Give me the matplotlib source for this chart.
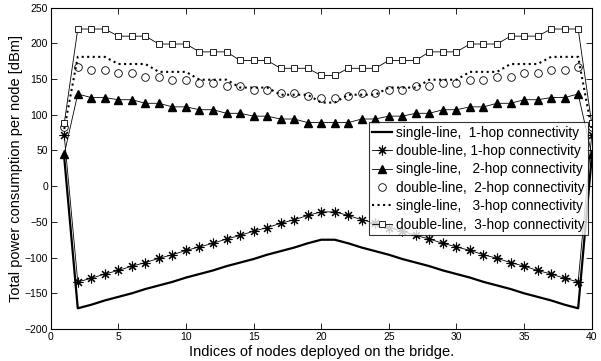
import matplotlib.pyplot as plt
import numpy as np

plt.rcParams['font.family'] = ['Liberation Sans', 'DejaVu Sans']

# Node indices 1..40
nodes = np.arange(1, 41)

# single-line, 1-hop
single_1hop = [40, -171, -166, -160, -155, -150, -144, -139, -134, -128,
               -123, -118, -112, -107, -102, -96, -91, -86, -80, -75,
               -75, -80, -86, -91, -96, -102, -107, -112, -118, -123,
               -128, -134, -139, -144, -150, -155, -160, -166, -171, 40]

# double-line, 1-hop
double_1hop = [71, -134, -129, -123, -118, -112, -107, -101, -96, -90,
               -85, -80, -74, -69, -63, -58, -52, -47, -41, -36,
               -36, -41, -47, -52, -58, -63, -69, -74, -80, -85,
               -90, -96, -101, -107, -112, -118, -123, -129, -134, 71]

# single-line, 2-hop
single_2hop = [45, 129, 124, 124, 121, 121, 116, 116, 111, 111,
               107, 107, 102, 102, 98, 98, 94, 94, 89, 89,
               89, 89, 94, 94, 98, 98, 102, 102, 107, 107,
               111, 111, 116, 116, 121, 121, 124, 124, 129, 45]

# double-line, 2-hop
double_2hop = [83, 167, 162, 162, 158, 158, 153, 153, 149, 149,
               145, 145, 140, 140, 135, 135, 131, 131, 126, 124,
               124, 126, 131, 131, 135, 135, 140, 140, 145, 145,
               149, 149, 153, 153, 158, 158, 162, 162, 167, 83]

# single-line, 3-hop
single_3hop = [80, 181, 181, 181, 171, 171, 171, 160, 160, 160,
               149, 149, 149, 138, 138, 138, 128, 128, 128, 117,
               117, 128, 128, 128, 138, 138, 138, 149, 149, 149,
               160, 160, 160, 171, 171, 171, 181, 181, 181, 80]

# double-line, 3-hop
double_3hop = [88, 220, 220, 220, 210, 210, 210, 199, 199, 199,
               188, 188, 188, 176, 176, 176, 165, 165, 165, 155,
               155, 165, 165, 165, 176, 176, 176, 188, 188, 188,
               199, 199, 199, 210, 210, 210, 220, 220, 220, 88]

fig = plt.figure(figsize=(6.01, 3.61), dpi=100)
ax = fig.add_axes([0.0844, 0.0886, 0.9001, 0.8904])

ax.plot(nodes, single_1hop, color='black', lw=1.6,
        label='single-line,  1-hop connectivity')
ax.plot(nodes, double_1hop, color='black', lw=0.6, marker=(8, 2, 0), ms=7,
        mew=0.8, label='double-line, 1-hop connectivity')
ax.plot(nodes, single_2hop, color='black', lw=0.6, marker='^', ms=5.5,
        mfc='black', label='single-line,   2-hop connectivity')
ax.plot(nodes, double_2hop, color='black', ls='none', marker='o', ms=5.5,
        mfc='white', mew=0.6, label='double-line,  2-hop connectivity')
ax.plot(nodes, single_3hop, color='black', lw=1.5, ls=':',
        label='single-line,   3-hop connectivity')
ax.plot(nodes, double_3hop, color='black', lw=0.6, marker='s', ms=5,
        mfc='white', mew=0.6, label='double-line,  3-hop connectivity')

ax.set_xlim(0, 40)
ax.set_ylim(-200, 250)
ax.set_xticks(np.arange(0, 41, 5))
ax.set_yticks(np.arange(-200, 251, 50))
ax.tick_params(direction='in', top=True, right=True, labelsize=7.5,
               length=4, width=0.6, pad=2)
for s in ax.spines.values():
    s.set_linewidth(0.8)

ax.set_xlabel('Indices of nodes deployed on the bridge.', fontsize=10.5, labelpad=2)
ax.set_ylabel('Total power consumption per node [dBm]', fontsize=10.5, labelpad=1)

leg = ax.legend(loc='upper right', bbox_to_anchor=(0.994, 0.643), fontsize=9.8,
                frameon=True, fancybox=False, edgecolor='black',
                handlelength=1.5, handletextpad=0.3, borderpad=0.25,
                labelspacing=0.32, borderaxespad=0.0)
leg.get_frame().set_linewidth(0.8)

plt.savefig('out.png', dpi=100)
